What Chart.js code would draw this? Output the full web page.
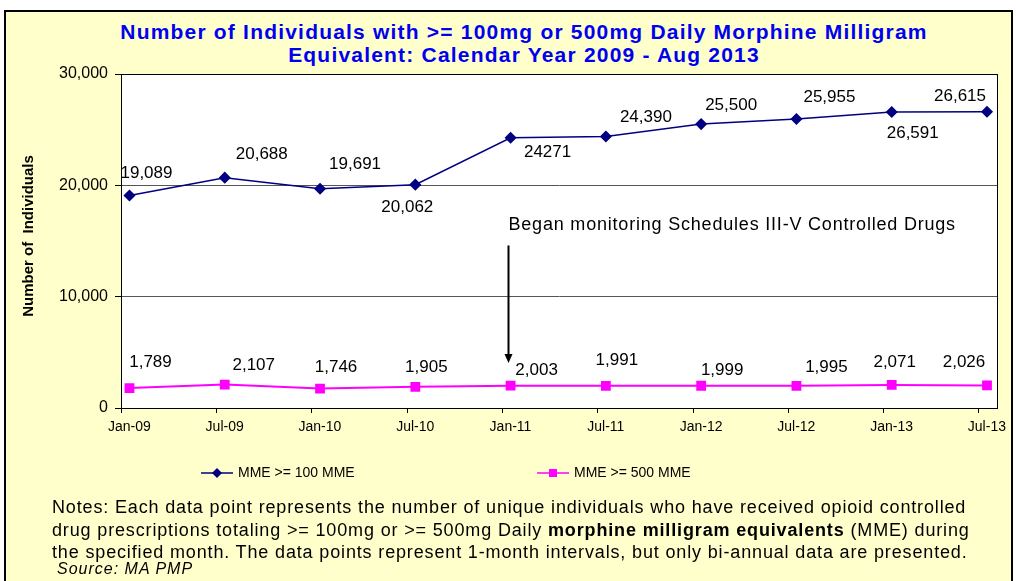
<!DOCTYPE html>
<html>
<head>
<meta charset="utf-8">
<script src="https://cdn.jsdelivr.net/npm/chart.js@4.4.0/dist/chart.umd.min.js"></script>
<style>
  html, body { margin: 0; padding: 0; background: #fff; width: 1016px; height: 581px; overflow: hidden; }
  #frame { position: absolute; left: 4px; top: 10px; width: 1009px; height: 600px; background: #FFFFCC; border: 2px solid #000; box-sizing: border-box; }
  #wrap { position: absolute; left: 0; top: 0; width: 1016px; height: 581px; }
  #title { position: absolute; left: 0; width: 1048px; top: 20px; text-align: center; color: #0000F0;
           font: bold 21px "Liberation Sans", Arial, sans-serif; line-height: 23px; letter-spacing: 1.2px; }
  #notes { position: absolute; left: 52px; top: 496px; font: 18px "Liberation Sans", Arial, sans-serif;
           line-height: 22.5px; color: #000; white-space: nowrap; letter-spacing: 0.85px; }
  #source { position: absolute; left: 57px; top: 560px; font: italic 16px "Liberation Sans", Arial, sans-serif; line-height: 18px; color: #000; letter-spacing: 1px; }
</style>
</head>
<body>
<div id="frame"></div>
<div id="title">Number of Individuals with &gt;= 100mg or 500mg Daily Morphine Milligram<br>Equivalent: Calendar Year 2009 - Aug 2013</div>
<div id="wrap"><canvas id="lineCanvas" width="1016" height="581"></canvas></div>
<div id="notes">Notes: Each data point represents the number of unique individuals who have received opioid controlled<br>drug prescriptions totaling &gt;= 100mg or &gt;= 500mg Daily <b>morphine milligram equivalents</b> (MME) during<br>the specified month. The data points represent 1-month intervals, but only bi-annual data are presented.</div>
<div id="source">Source: MA PMP</div>
<script>
const months = ["Jan-09", "Jul-09", "Jan-10", "Jul-10", "Jan-11", "Jul-11", "Jan-12", "Jul-12", "Jan-13", "Jul-13"];
const mme100 = [19089, 20688, 19691, 20062, 24271, 24390, 25500, 25955, 26591, 26615];
const mme500 = [1789, 2107, 1746, 1905, 2003, 1991, 1999, 1995, 2071, 2026];
// the original labels are not all formatted the same way
const mme100Labels = ["19,089", "20,688", "19,691", "20,062", "24271", "24,390", "25,500", "25,955", "26,591", "26,615"];
const mme500Labels = ["1,789", "2,107", "1,746", "1,905", "2,003", "1,991", "1,999", "1,995", "2,071", "2,026"];
const yTicks = [0, 10000, 20000, 30000];
const seriesNames = ["MME >= 100 MME", "MME >= 500 MME"];
const noteText = "Began monitoring Schedules III-V Controlled Drugs";

const FONT = '"Liberation Sans", Arial, sans-serif';

// label placement relative to each point (dx, dy)
const offs100 = [[17,-22],[37,-23],[35,-24],[-8,23],[37,15],[40,-19],[30,-19],[33,-22],[21,21],[-27,-15]];
const offs500 = [[21,-26],[29,-19],[16,-21],[11,-19],[26,-15],[11,-26],[21,-15],[30,-18],[3,-23],[-23,-23]];

const extras = {
    id: "extras",
    beforeDraw(chart) {
        const { ctx, chartArea: a } = chart;
        ctx.save();
        ctx.fillStyle = "#fff";
        ctx.fillRect(a.left, a.top, a.right - a.left, a.bottom - a.top);
        ctx.restore();
    },
    afterDatasetsDraw(chart) {
        const { ctx, chartArea: a } = chart;
        const xs = chart.scales.x, ys = chart.scales.y;
        ctx.save();
        // plot border
        ctx.strokeStyle = "#000";
        ctx.lineWidth = 1;
        ctx.strokeRect(Math.round(a.left) + 0.5, Math.round(a.top) + 0.5, Math.round(a.right - a.left), Math.round(a.bottom - a.top));

        // data labels
        ctx.fillStyle = "#000";
        ctx.font = "17px " + FONT;
        ctx.textAlign = "center";
        ctx.textBaseline = "middle";
        [[0, mme100Labels, offs100], [1, mme500Labels, offs500]].forEach(([di, labels, offs]) => {
            chart.getDatasetMeta(di).data.forEach((pt, i) => {
                ctx.fillText(labels[i], pt.x + offs[i][0], pt.y + offs[i][1]);
            });
        });

        // annotation with arrow
        const ax = Math.round(xs.getPixelForValue(4)) - 2.5;
        ctx.textAlign = "left";
        ctx.font = "18px " + FONT;
        ctx.letterSpacing = "0.8px";
        ctx.fillText(noteText, ax, ys.getPixelForValue(16430));
        ctx.letterSpacing = "0px";
        const y0 = ys.getPixelForValue(14600), y1 = ys.getPixelForValue(4050);
        ctx.strokeStyle = "#000";
        ctx.lineWidth = 2;
        ctx.beginPath();
        ctx.moveTo(ax, y0);
        ctx.lineTo(ax, y1 - 8);
        ctx.stroke();
        ctx.beginPath();
        ctx.moveTo(ax - 4, y1 - 9);
        ctx.lineTo(ax + 4, y1 - 9);
        ctx.lineTo(ax, y1);
        ctx.closePath();
        ctx.fill();

        // y axis title
        ctx.save();
        ctx.translate(29, 236);
        ctx.rotate(-Math.PI / 2);
        ctx.font = "bold 15px " + FONT;
        ctx.textAlign = "center";
        ctx.fillText("Number of  Individuals", 0, 0);
        ctx.restore();

        // legend
        const ly = 473;
        const items = [[201, chart.data.datasets[0]], [537, chart.data.datasets[1]]];
        ctx.font = "14px " + FONT;
        ctx.textAlign = "left";
        items.forEach(([lx, ds]) => {
            ctx.strokeStyle = ds.borderColor;
            ctx.lineWidth = 1.5;
            ctx.beginPath();
            ctx.moveTo(lx, ly);
            ctx.lineTo(lx + 32, ly);
            ctx.stroke();
            ctx.fillStyle = ds.backgroundColor;
            ctx.beginPath();
            if (ds.pointStyle === "rectRot") {
                ctx.moveTo(lx + 16, ly - 5);
                ctx.lineTo(lx + 21, ly);
                ctx.lineTo(lx + 16, ly + 5);
                ctx.lineTo(lx + 11, ly);
                ctx.closePath();
            } else {
                ctx.rect(lx + 12, ly - 4, 8, 8);
            }
            ctx.fill();
            ctx.fillStyle = "#000";
            ctx.fillText(ds.label, lx + 37, ly);
        });
        ctx.restore();
    }
};

new Chart(document.getElementById("lineCanvas"), {
    type: "line",
    data: {
        datasets: [{
            label: seriesNames[0],
            data: mme100.map((v, i) => ({ x: i, y: v })),
            borderColor: "#000080",
            backgroundColor: "#000080",
            borderWidth: 1.5,
            pointStyle: "rectRot",
            pointRadius: 5,
            pointHoverRadius: 5
        }, {
            label: seriesNames[1],
            data: mme500.map((v, i) => ({ x: i, y: v })),
            borderColor: "#FF00FF",
            backgroundColor: "#FF00FF",
            borderWidth: 2,
            pointStyle: "rect",
            pointRadius: 5.5,
            pointHoverRadius: 5.5
        }]
    },
    options: {
        responsive: false,
        animation: false,
        events: [],
        layout: { padding: { left: 0, top: 74, right: 19, bottom: 133 } },
        plugins: { legend: { display: false }, tooltip: { enabled: false } },
        scales: {
            x: {
                type: "linear",
                min: -0.089,
                max: 9.105,
                afterBuildTicks: s => { s.ticks = months.map((m, i) => ({ value: i - 0.085 })); },
                afterFit: s => { s.height = 40; },
                grid: { drawOnChartArea: false, tickLength: 5, tickColor: "#000" },
                border: { color: "#000", width: 1 },
                ticks: {
                    autoSkip: false, maxRotation: 0, labelOffset: 8, padding: 6,
                    color: "#000", font: { family: FONT, size: 14 },
                    callback: (v, i) => months[i]
                }
            },
            y: {
                min: 0,
                max: 30000,
                afterBuildTicks: s => { s.ticks = yTicks.map(v => ({ value: v })); },
                afterFit: s => { s.width = 121; },
                grid: {
                    tickLength: 6,
                    tickColor: "#000",
                    color: c => (c.tick && (c.tick.value === 0 || c.tick.value === 30000)) ? "#000" : "#555"
                },
                border: { color: "#000", width: 1 },
                ticks: {
                    padding: 7, color: "#000", font: { family: FONT, size: 16 },
                    callback: v => v.toLocaleString("en-US")
                }
            }
        }
    },
    plugins: [extras]
});
</script>
</body>
</html>
